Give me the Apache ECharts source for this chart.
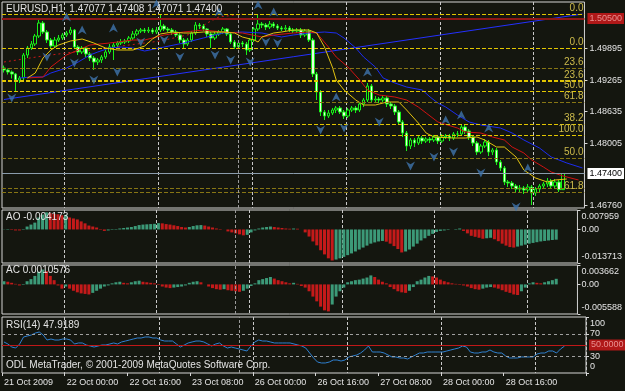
<!DOCTYPE html>
<html>
<head>
<meta charset="utf-8">
<script src="https://cdn.jsdelivr.net/npm/echarts@6/dist/echarts.min.js"></script>
<style>
html, body { margin: 0; padding: 0; background: #14160f; }
#main { width: 625px; height: 391px; }
</style>
</head>
<body>
<div id="main"></div>
<script>
// EURUSD H1, 21 Oct 08:00 .. 29 Oct 07:00 (weekend skipped)
var symbolName = 'EURUSD,H1';
var days = ['21 Oct', '22 Oct', '23 Oct', '26 Oct', '27 Oct', '28 Oct', '29 Oct'];
var firstLabel = '21 Oct 2009';
var slots = 149;

var open = [
	1.4951, 1.4947, 1.4943, 1.4939, 1.4927, 1.4931, 1.4977, 1.4991, 1.4999, 1.5015,
	1.5041, 1.5023, 1.5007, 1.4995, 1.5007, 1.5011, 1.5017, 1.5021, 1.5027, 1.4993,
	1.4983, 1.4991, 1.4979, 1.4971, 1.4963, 1.4967, 1.4973, 1.4983, 1.4993, 1.4997,
	1.5001, 1.5003, 1.5005, 1.5011, 1.5019, 1.5025, 1.5027, 1.5025, 1.5027, 1.5023,
	1.5027, 1.5035, 1.5029, 1.5027, 1.5023, 1.5017, 1.5007, 1.4999, 1.5007, 1.5021,
	1.5037, 1.5035, 1.5029, 1.5019, 1.5011, 1.5019, 1.5023, 1.5029, 1.5019, 1.5003,
	1.4993, 1.5001, 1.4999, 1.4987, 1.5007, 1.5029, 1.5039, 1.5037, 1.5033, 1.5039,
	1.5035, 1.5031, 1.5029, 1.5031, 1.5027, 1.5025, 1.5027, 1.5017, 1.5025, 1.5007,
	1.4939, 1.4903, 1.4863, 1.4855, 1.4861, 1.4867, 1.4871, 1.4863, 1.4855, 1.4867,
	1.4871, 1.4867, 1.4879, 1.4887, 1.4915, 1.4887, 1.4889, 1.4887, 1.4891, 1.4879,
	1.4875, 1.4863, 1.4843, 1.4821, 1.4795, 1.4807, 1.4801, 1.4811, 1.4805, 1.4809,
	1.4807, 1.4813, 1.4805, 1.4813, 1.4815, 1.4811, 1.4819, 1.4819, 1.4833, 1.4825,
	1.4813, 1.4801, 1.4783, 1.4795, 1.4803, 1.4783, 1.4787, 1.4763, 1.4751, 1.4723,
	1.4721, 1.4715, 1.4709, 1.4711, 1.4707, 1.4713, 1.4701, 1.4709, 1.4715, 1.4719,
	1.4725, 1.4715, 1.4723, 1.47077
];
var close = [
	1.4947, 1.4943, 1.4939, 1.4927, 1.4931, 1.4977, 1.4991, 1.4999, 1.5015, 1.5041,
	1.5023, 1.5007, 1.4995, 1.5007, 1.5011, 1.5017, 1.5021, 1.5027, 1.4993, 1.4983,
	1.4991, 1.4979, 1.4971, 1.4963, 1.4967, 1.4973, 1.4983, 1.4993, 1.4997, 1.5001,
	1.5003, 1.5005, 1.5011, 1.5019, 1.5025, 1.5027, 1.5025, 1.5027, 1.5023, 1.5027,
	1.5035, 1.5029, 1.5027, 1.5023, 1.5017, 1.5007, 1.4999, 1.5007, 1.5021, 1.5037,
	1.5035, 1.5029, 1.5019, 1.5011, 1.5019, 1.5023, 1.5029, 1.5019, 1.5003, 1.4993,
	1.5001, 1.4999, 1.4987, 1.5007, 1.5029, 1.5039, 1.5037, 1.5033, 1.5039, 1.5035,
	1.5031, 1.5029, 1.5031, 1.5027, 1.5025, 1.5027, 1.5017, 1.5025, 1.5007, 1.4939,
	1.4903, 1.4863, 1.4855, 1.4861, 1.4867, 1.4871, 1.4863, 1.4855, 1.4867, 1.4871,
	1.4867, 1.4879, 1.4887, 1.4915, 1.4887, 1.4889, 1.4887, 1.4891, 1.4879, 1.4875,
	1.4863, 1.4843, 1.4821, 1.4795, 1.4807, 1.4801, 1.4811, 1.4805, 1.4809, 1.4807,
	1.4813, 1.4805, 1.4813, 1.4815, 1.4811, 1.4819, 1.4819, 1.4833, 1.4825, 1.4813,
	1.4801, 1.4783, 1.4795, 1.4803, 1.4783, 1.4787, 1.4763, 1.4751, 1.4723, 1.4721,
	1.4715, 1.4709, 1.4711, 1.4707, 1.4713, 1.4701, 1.4709, 1.4715, 1.4719, 1.4725,
	1.4715, 1.4723, 1.47077, 1.47400
];
var high = [
	1.4956, 1.4950, 1.4946, 1.4941, 1.4935, 1.4981, 1.4995, 1.5005, 1.5019, 1.5047,
	1.5045, 1.5027, 1.5011, 1.5013, 1.5017, 1.5021, 1.5025, 1.5033, 1.5029, 1.4997,
	1.4995, 1.4993, 1.4983, 1.4975, 1.4971, 1.4977, 1.4987, 1.4999, 1.5003, 1.5005,
	1.5009, 1.5009, 1.5015, 1.5025, 1.5029, 1.5031, 1.5031, 1.5033, 1.5031, 1.5033,
	1.5057, 1.5039, 1.5033, 1.5031, 1.5027, 1.5021, 1.5011, 1.5011, 1.5025, 1.5043,
	1.5041, 1.5039, 1.5031, 1.5023, 1.5023, 1.5027, 1.5033, 1.5031, 1.5023, 1.5007,
	1.5005, 1.5005, 1.5003, 1.5011, 1.5033, 1.5059, 1.5043, 1.5041, 1.5045, 1.5043,
	1.5039, 1.5035, 1.5037, 1.5035, 1.5031, 1.5031, 1.5031, 1.5029, 1.5029, 1.5011,
	1.4943, 1.4907, 1.4867, 1.4867, 1.4871, 1.4875, 1.4875, 1.4867, 1.4871, 1.4875,
	1.4875, 1.4883, 1.4891, 1.4921, 1.4919, 1.4895, 1.4893, 1.4897, 1.4895, 1.4883,
	1.4879, 1.4867, 1.4847, 1.4825, 1.4811, 1.4811, 1.4817, 1.4815, 1.4813, 1.4813,
	1.4817, 1.4817, 1.4819, 1.4819, 1.4819, 1.4823, 1.4825, 1.4839, 1.4837, 1.4829,
	1.4817, 1.4805, 1.4799, 1.4809, 1.4807, 1.4791, 1.4791, 1.4767, 1.4755, 1.4727,
	1.4725, 1.4719, 1.4717, 1.4715, 1.4719, 1.4717, 1.4713, 1.4719, 1.4723, 1.4731,
	1.4729, 1.4729, 1.4727, 1.47408
];
var low = [
	1.4942, 1.4938, 1.4930, 1.4905, 1.4921, 1.4927, 1.4971, 1.4987, 1.4995, 1.5011,
	1.5019, 1.5001, 1.4989, 1.4991, 1.5003, 1.5007, 1.5013, 1.5017, 1.4989, 1.4977,
	1.4979, 1.4973, 1.4965, 1.4947, 1.4957, 1.4961, 1.4969, 1.4979, 1.4967, 1.4993,
	1.4997, 1.4999, 1.5001, 1.5007, 1.5015, 1.5021, 1.5021, 1.5021, 1.5019, 1.5019,
	1.5023, 1.5025, 1.5023, 1.5017, 1.5013, 1.5001, 1.4991, 1.4995, 1.5003, 1.5017,
	1.5029, 1.5025, 1.5013, 1.4991, 1.5007, 1.5015, 1.5019, 1.5015, 1.4999, 1.4989,
	1.4989, 1.4993, 1.4977, 1.4983, 1.5003, 1.5025, 1.5031, 1.5027, 1.5029, 1.5031,
	1.5027, 1.5025, 1.5025, 1.5023, 1.5021, 1.5021, 1.5011, 1.5013, 1.5003, 1.4933,
	1.4887, 1.4855, 1.4847, 1.4851, 1.4857, 1.4861, 1.4859, 1.4849, 1.4851, 1.4863,
	1.4861, 1.4863, 1.4873, 1.4883, 1.4881, 1.4881, 1.4881, 1.4883, 1.4873, 1.4869,
	1.4857, 1.4837, 1.4813, 1.4785, 1.4789, 1.4793, 1.4797, 1.4799, 1.4801, 1.4801,
	1.4803, 1.4799, 1.4801, 1.4809, 1.4805, 1.4807, 1.4813, 1.4815, 1.4819, 1.4807,
	1.4795, 1.4777, 1.4779, 1.4791, 1.4775, 1.4777, 1.4757, 1.4745, 1.4717, 1.4713,
	1.4709, 1.4701, 1.4703, 1.4699, 1.4701, 1.4677, 1.4695, 1.4703, 1.4709, 1.4713,
	1.4709, 1.4711, 1.4703, 1.47071
];

// Alligator lines, read as [bar, price]
var lips = [[6,1.4931],[8,1.4941],[10,1.4971],[12,1.4987],[14,1.4997],[17,1.5005],[20,1.5009],[23,1.5001],[26,1.4991],[29,1.4987],[33,1.4987],[36,1.4995],[38,1.5009],[40,1.5019],[43,1.5023],[46,1.5021],[48,1.5021],[51,1.5023],[54,1.5023],[56,1.5023],[59,1.5021],[61,1.5013],[64,1.5007],[65,1.5003],[66,1.5013],[69,1.5021],[71,1.5023],[74,1.5027],[78,1.5027],[80,1.5021],[82,1.4993],[84,1.4953],[85,1.4927],[87,1.4907],[90,1.4887],[92,1.4877],[95,1.4877],[98,1.4883],[101,1.4883],[103,1.4867],[106,1.4841],[108,1.4821],[110,1.4813],[115,1.4811],[118,1.4811],[121,1.4813],[123,1.4807],[126,1.4793],[128,1.4793],[131,1.4773],[133,1.4747],[136,1.4731],[139,1.4723],[141,1.4727],[144,1.4729]];
var teeth = [[6,1.4931],[10,1.4933],[12,1.4953],[16,1.4977],[19,1.4987],[22,1.4997],[27,1.5001],[29,1.5003],[33,1.5007],[36,1.5007],[41,1.5017],[46,1.5023],[51,1.5027],[56,1.5023],[61,1.5021],[66,1.5013],[69,1.5017],[74,1.5021],[78,1.5023],[80,1.5021],[83,1.4993],[85,1.4973],[88,1.4953],[91,1.4927],[93,1.4907],[96,1.4897],[100,1.4893],[103,1.4887],[106,1.4873],[108,1.4861],[111,1.4843],[116,1.4831],[118,1.4823],[122,1.4821],[125,1.4813],[128,1.4807],[130,1.4793],[133,1.4781],[135,1.4767],[138,1.4753],[140,1.4743],[143,1.4735],[147,1.4727]];
var jaw = [[4,1.4931],[7,1.4933],[10,1.4933],[12,1.4941],[16,1.4951],[19,1.4963],[22,1.4977],[24,1.4983],[27,1.4991],[30,1.4993],[33,1.4991],[36,1.4985],[41,1.4993],[46,1.5001],[51,1.5011],[56,1.5021],[61,1.5023],[66,1.5021],[71,1.5013],[74,1.5017],[78,1.5021],[82,1.5023],[85,1.5021],[87,1.5011],[90,1.4991],[92,1.4973],[95,1.4953],[97,1.4931],[100,1.4921],[103,1.4913],[107,1.4907],[109,1.4893],[111,1.4881],[113,1.4873],[116,1.4857],[119,1.4843],[122,1.4837],[127,1.4831],[130,1.4821],[133,1.4807],[137,1.4791],[140,1.4773],[144,1.4761],[148,1.4751]];
var redDotted = [[0,1.4963],[10,1.4975],[20,1.4985],[30,1.4995],[40,1.5005],[48,1.5019],[52,1.5041],[55,1.5053],[61,1.5059]];
var trendLine = [[0,1.4888],[148,1.5059]];

// fractals
var fracUp = [[16,1.5053],[20,1.5027],[28,1.5031],[39,1.5079],[55,1.5063],[65,1.5077],[69,1.5063],[85,1.4893],[93,1.4943],[113,1.4847],[117,1.4857],[124,1.4831],[134,1.4751]];
var fracDown = [[2,1.4891],[11,1.4973],[18,1.4961],[23,1.4927],[29,1.4943],[35,1.5003],[41,1.5007],[45,1.4973],[54,1.4977],[58,1.4967],[63,1.4963],[67,1.5003],[70,1.5001],[81,1.4827],[87,1.4831],[96,1.4843],[104,1.4755],[110,1.4773],[115,1.4783],[122,1.4741],[131,1.4673]];

// fibo levels
var fibLevels = [1.5059, 1.4991, 1.4951, 1.4925, 1.4905, 1.4883, 1.4839, 1.4817, 1.4771, 1.4711, 1.4703];
var fibNames = ['0.0', '0.0', '23.6', '23.6', '50.0', '61.8', '38.2', '100.0', '50.0', '', '61.8'];
var fibBright = [true, true, false, true, true, false, true, true, false, false, false];
var alertLevel = 1.5050;
var priceTicks = [1.4676, 1.48005, 1.48635, 1.49265, 1.49895];

var ao = [
	0.0001, 0.0002, -0.0002, -0.0004, -0.0004, 0.0002, 0.0012, 0.0020, 0.0028, 0.0049,
	0.0061, 0.0070, 0.0066, 0.0064, 0.0062, 0.0058, 0.0060, 0.0049, 0.0045, 0.0041,
	0.0033, 0.0025, 0.0016, 0.0012, 0.0008, 0.0002, -0.0006, -0.0004, -0.0002, 0.0002,
	0.0004, 0.0006, 0.0008, 0.0010, 0.0014, 0.0018, 0.0020, 0.0021, 0.0022, 0.0023,
	0.0026, 0.0025, 0.0022, 0.0020, 0.0017, 0.0014, 0.0010, 0.0008, 0.0010, 0.0014,
	0.0017, 0.0018, 0.0016, 0.0012, 0.0008, 0.0004, 0.0002, 0.0000, -0.0008, -0.0012,
	-0.0016, -0.0020, -0.0024, -0.0022, -0.0012, -0.0004, 0.0004, 0.0008, 0.0010, 0.0012,
	0.0010, 0.0008, 0.0006, 0.0004, 0.0003, 0.0004, 0.0003, 0.0000, -0.0012, -0.0029,
	-0.0049, -0.0065, -0.0085, -0.0102, -0.0118, -0.0127, -0.0123, -0.0118, -0.0112, -0.0105,
	-0.0098, -0.0090, -0.0082, -0.0074, -0.0066, -0.0058, -0.0053, -0.0049, -0.0047, -0.0050,
	-0.0058, -0.0068, -0.0080, -0.0094, -0.0090, -0.0082, -0.0070, -0.0058, -0.0045, -0.0036,
	-0.0026, -0.0018, -0.0010, -0.0006, -0.0004, -0.0002, 0.0000, 0.0002, 0.0004, -0.0006,
	-0.0016, -0.0026, -0.0030, -0.0034, -0.0038, -0.0036, -0.0034, -0.0040, -0.0048, -0.0058,
	-0.0066, -0.0072, -0.0074, -0.0070, -0.0066, -0.0062, -0.0058, -0.0055, -0.0052, -0.0049,
	-0.0047, -0.0045, -0.0043, -0.004173
];
var ac = [
	0.0006, 0.0005, 0.0003, 0.0001, -0.0002, -0.0001, 0.0006, 0.0010, 0.0016, 0.0024,
	0.0028, 0.0025, 0.0016, 0.0008, -0.0002, -0.0008, -0.0004, -0.0008, -0.0012, -0.0015,
	-0.0017, -0.0018, -0.0019, -0.0016, -0.0012, -0.0008, -0.0004, -0.0002, 0.0002, 0.0004,
	0.0005, 0.0003, 0.0002, 0.0004, 0.0006, 0.0007, 0.0005, 0.0004, 0.0003, 0.0002,
	-0.0001, -0.0004, -0.0006, -0.0007, -0.0006, -0.0005, -0.0004, -0.0002, 0.0003, 0.0005,
	0.0006, 0.0004, 0.0000, -0.0004, -0.0007, -0.0009, -0.0010, -0.0009, -0.0011, -0.0012,
	-0.0013, -0.0014, -0.0012, -0.0008, -0.0003, 0.0002, 0.0008, 0.0010, 0.0012, 0.0014,
	0.0011, 0.0008, 0.0006, 0.0004, 0.0002, 0.0003, 0.0001, -0.0003, -0.0006, -0.0013,
	-0.0023, -0.0032, -0.0042, -0.0049, -0.0051, -0.0038, -0.0023, -0.0013, -0.0006, 0.0004,
	0.0006, 0.0008, 0.0009, 0.0011, 0.0013, 0.0017, 0.0014, 0.0009, 0.0005, 0.0002,
	-0.0005, -0.0009, -0.0013, -0.0015, -0.0016, -0.0012, -0.0005, 0.0006, 0.0009, 0.0013,
	0.0016, 0.0015, 0.0013, 0.0009, 0.0006, 0.0004, 0.0002, 0.0001, -0.0001, -0.0002,
	-0.0004, -0.0007, -0.0009, -0.0010, -0.0008, -0.0006, -0.0005, -0.0006, -0.0008, -0.0011,
	-0.0014, -0.0016, -0.0019, -0.0020, -0.0013, -0.0006, 0.0002, 0.0004, 0.0003, 0.0002,
	0.0004, 0.0006, 0.0008, 0.0010576
];
var rsi = [
	55.4, 51.8, 46.4, 44.6, 51.8, 64.3, 66.1, 67.9, 71.4, 73.2,
	67.9, 58.9, 60.7, 58.9, 58.9, 60.7, 60.7, 58.9, 51.8, 53.6,
	53.6, 50.0, 48.2, 46.4, 48.2, 50.0, 50.0, 51.8, 53.6, 51.8,
	55.4, 57.1, 58.9, 60.7, 62.5, 62.5, 64.3, 64.3, 62.5, 62.5,
	58.9, 57.1, 57.1, 57.1, 51.8, 46.4, 50.0, 53.6, 55.4, 57.1,
	57.1, 55.4, 51.8, 48.2, 51.8, 53.6, 48.2, 44.6, 46.4, 44.6,
	42.9, 41.1, 39.3, 48.2, 55.4, 58.9, 57.1, 57.1, 55.4, 53.6,
	53.6, 53.6, 53.6, 53.6, 51.8, 50.0, 48.2, 44.6, 35.7, 26.8,
	19.6, 17.9, 17.9, 19.6, 23.2, 23.2, 21.4, 23.2, 28.6, 30.4,
	32.1, 35.7, 41.1, 48.2, 37.5, 37.5, 37.5, 35.7, 32.1, 28.6,
	28.6, 26.8, 26.8, 25.0, 28.6, 32.1, 35.7, 35.7, 37.5, 37.5,
	37.5, 37.5, 37.5, 39.3, 41.1, 42.9, 44.6, 48.2, 46.4, 37.5,
	35.7, 35.7, 37.5, 37.5, 41.1, 37.5, 35.7, 35.7, 30.4, 26.8,
	26.8, 26.8, 28.6, 28.6, 28.6, 28.6, 33.9, 35.7, 35.7, 39.3,
	39.3, 35.7, 42.9, 47.9189
];
var rsiTicks = [0, 30, 70, 100];

var cats = [];
for (var d = 0; d < days.length; d++) {
	for (var h = (d == 0 ? 8 : 0); h < 24 && cats.length < slots; h++) {
		cats.push(days[d] + ' ' + (h < 10 ? '0' + h : h) + ':00');
	}
}

var FONT = 'Liberation Sans';
var WHITE = '#e4e4e4';
var last = close.length - 1;
var candles = [];
for (var i = 0; i < close.length; i++) {
	candles.push([open[i], close[i], low[i], high[i]]);
}

function histo(vals) {
	return vals.map(function(v, i) {
		var up = i == 0 ? v >= 0 : v > vals[i - 1];
		return { value: v, itemStyle: { color: up ? '#3c9a78' : '#c41a1a' } };
	});
}

function f5(v) { return v.toFixed(5); }

var fibLines = fibLevels.map(function(v, i) {
	return {
		yAxis: v,
		name: fibNames[i],
		lineStyle: { color: fibBright[i] ? '#e2c600' : '#877614', type: [4, 2], width: i == 3 ? 2 : 1 },
		label: { show: fibNames[i] != '', position: 'insideEndTop', formatter: '{b}', color: '#cdbb4c', fontSize: 10, fontFamily: FONT, distance: 1 }
	};
});

var vLine = { xAxis: 60, lineStyle: { color: '#9a9a9a', type: [3, 2], width: 1 }, label: { show: false } };
var everySixteen = function(i) { return i % 16 == 0 && i < 144; };

// panels carry only the day grid; the time labels sit on a separate overlay axis
function xAxisFor(idx) {
	return {
		type: 'category', gridIndex: idx, data: cats, boundaryGap: true,
		axisLine: { show: false }, axisTick: { show: false }, axisLabel: { show: false },
		splitLine: {
			show: true,
			interval: function(i) { return i >= 16 && (i - 16) % 24 == 0; },
			lineStyle: { color: '#c8c8c8', type: [3, 2], width: 1 }
		}
	};
}

// first/last label pushed inside the panel, like the terminal does
var rich = {
	t: { padding: [14, 0, 0, 0], lineHeight: 9, color: WHITE, fontSize: 9, fontFamily: FONT },
	b: { padding: [0, 0, 12, 0], lineHeight: 9, color: WHITE, fontSize: 9, fontFamily: FONT }
};

function subAxis(idx, min, max, ticks, fmt) {
	var lo = ticks[0], hi = ticks[ticks.length - 1];
	return {
		type: 'value', gridIndex: idx, position: 'right', min: min, max: max,
		axisLine: { show: false }, splitLine: { show: false },
		axisTick: { show: true, customValues: ticks, length: 3, lineStyle: { color: '#d8d8d8' } },
		axisLabel: {
			customValues: ticks, showMinLabel: true, showMaxLabel: true, hideOverlap: false,
			margin: 4, color: WHITE, fontSize: 9, lineHeight: 9, fontFamily: FONT, rich: rich,
			formatter: function(v) {
				if (v == hi) return '{t|' + fmt(v) + '}';
				if (v == lo) return '{b|' + fmt(v) + '}';
				return fmt(v);
			}
		}
	};
}

var gridStyle = { show: true, borderColor: '#d4d4d4', borderWidth: 1, left: 2, width: 584 };

var myChart = echarts.init(document.getElementById('main'));
myChart.setOption({
	animation: false,
	backgroundColor: '#14160f',
	textStyle: { fontFamily: FONT },
	title: [
		{ text: symbolName + '  ' + [open[last], high[last], low[last], close[last]].map(f5).join(' '), left: 6, top: 4 },
		{ text: 'AO ' + ao[last].toFixed(6), left: 6, top: 212 },
		{ text: 'AC ' + ac[last].toFixed(7), left: 6, top: 265 },
		{ text: 'RSI(14) ' + rsi[last].toFixed(4), left: 6, top: 320 },
		{ text: 'ODL MetaTrader, \u00a9 2001-2009 MetaQuotes Software Corp.', left: 6, top: 360 }
	].map(function(t) {
		t.padding = 0;
		t.textStyle = { color: WHITE, fontSize: 10, fontWeight: 'normal', fontFamily: FONT };
		return t;
	}),
	grid: [
		Object.assign({ top: 2, height: 206 }, gridStyle),
		Object.assign({ top: 210, height: 53 }, gridStyle),
		Object.assign({ top: 265, height: 49 }, gridStyle),
		Object.assign({ top: 317, height: 56 }, gridStyle),
		{ show: false, left: 2, width: 584, top: 317, height: 56 }
	],
	xAxis: [
		xAxisFor(0), xAxisFor(1), xAxisFor(2), xAxisFor(3),
		{
			type: 'category', gridIndex: 4, data: cats, boundaryGap: true,
			axisLine: { show: false }, splitLine: { show: false },
			axisTick: { show: true, interval: everySixteen, length: 3, lineStyle: { color: '#d8d8d8' } },
			axisLabel: {
				show: true, interval: everySixteen, align: 'left', margin: 5, color: WHITE, fontSize: 9, fontFamily: FONT,
				formatter: function(v, i) { return i == 0 ? firstLabel : v; }
			}
		}
	],
	yAxis: [
		{
			type: 'value', gridIndex: 0, position: 'right', min: 1.4671, max: 1.5083,
			axisLine: { show: false }, splitLine: { show: false },
			axisTick: { show: true, customValues: priceTicks, length: 3, lineStyle: { color: '#d8d8d8' } },
			axisLabel: { customValues: priceTicks, margin: 5, color: WHITE, fontSize: 9, fontFamily: FONT, formatter: f5 }
		},
		subAxis(1, -0.013713, 0.007959, [-0.013713, 0, 0.007959], function(v) { return v == 0 ? '0.00' : v.toFixed(6); }),
		subAxis(2, -0.005588, 0.003662, [-0.005588, 0, 0.003662], function(v) { return v == 0 ? '0.00' : v.toFixed(6); }),
		subAxis(3, 0, 100, rsiTicks, function(v) { return String(v); }),
		{ type: 'value', gridIndex: 4, show: false }
	],
	series: [
		{
			name: 'EURUSD', type: 'candlestick', xAxisIndex: 0, yAxisIndex: 0, data: candles, barWidth: 3, z: 3,
			itemStyle: { color: '#0e120a', color0: '#e6ffe0', borderColor: '#18f018', borderColor0: '#18f018', borderWidth: 1 },
			markLine: {
				silent: true, symbol: 'none', animation: false, precision: 6,
				data: fibLines.concat([
					{ yAxis: alertLevel, lineStyle: { color: '#8e1616', type: 'solid', width: 2 },
						label: { show: true, position: 'end', distance: 3, formatter: f5(alertLevel), backgroundColor: '#b01818', color: '#e89090', fontSize: 9, fontFamily: FONT, padding: [1, 2] } },
					{ yAxis: close[last], lineStyle: { color: '#8a9cac', type: 'solid', width: 1 },
						label: { show: true, position: 'end', distance: 3, formatter: f5(close[last]), backgroundColor: '#ffffff', color: '#000000', fontSize: 9, fontFamily: FONT, padding: [1, 2] } },
					vLine
				])
			}
		},
		{ name: 'trend', type: 'line', xAxisIndex: 0, yAxisIndex: 0, data: trendLine, showSymbol: false, lineStyle: { color: '#2430ff', width: 1 }, z: 2 },
		{ name: 'dotted', type: 'line', xAxisIndex: 0, yAxisIndex: 0, data: redDotted, showSymbol: false, lineStyle: { color: '#c81818', width: 1, type: [2, 3] }, z: 2 },
		{ name: 'Jaw', type: 'line', xAxisIndex: 0, yAxisIndex: 0, data: jaw, showSymbol: false, lineStyle: { color: '#1c2cf0', width: 1 }, z: 4 },
		{ name: 'Teeth', type: 'line', xAxisIndex: 0, yAxisIndex: 0, data: teeth, showSymbol: false, lineStyle: { color: '#d01212', width: 1 }, z: 4 },
		{ name: 'Lips', type: 'line', xAxisIndex: 0, yAxisIndex: 0, data: lips, showSymbol: false, lineStyle: { color: '#e2c210', width: 1 }, z: 4 },
		{ name: 'FractalUp', type: 'scatter', xAxisIndex: 0, yAxisIndex: 0, data: fracUp, symbol: 'path://M5,0L10,10L5,7L0,10Z', symbolSize: [9, 9], itemStyle: { color: '#3f74ad' }, z: 5 },
		{ name: 'FractalDown', type: 'scatter', xAxisIndex: 0, yAxisIndex: 0, data: fracDown, symbol: 'path://M0,0L5,3L10,0L5,10Z', symbolSize: [9, 9], itemStyle: { color: '#3f74ad' }, z: 5 },
		{
			name: 'AO', type: 'bar', xAxisIndex: 1, yAxisIndex: 1, data: histo(ao), barWidth: 3,
			markLine: { silent: true, symbol: 'none', precision: 6, data: [vLine] }
		},
		{
			name: 'AC', type: 'bar', xAxisIndex: 2, yAxisIndex: 2, data: histo(ac), barWidth: 3,
			markLine: { silent: true, symbol: 'none', precision: 6, data: [vLine] }
		},
		{
			name: 'RSI', type: 'line', xAxisIndex: 3, yAxisIndex: 3, data: rsi, showSymbol: false,
			lineStyle: { color: '#2f80d0', width: 1 },
			markLine: {
				silent: true, symbol: 'none', precision: 6,
				data: [
					{ yAxis: 70, lineStyle: { color: '#a0a0a0', type: [3, 3], width: 1 }, label: { show: false } },
					{ yAxis: 30, lineStyle: { color: '#a0a0a0', type: [3, 3], width: 1 }, label: { show: false } },
					{ yAxis: 50, lineStyle: { color: '#c01818', type: 'solid', width: 1 },
						label: { show: true, position: 'end', distance: 3, formatter: '50.0000', backgroundColor: '#b01818', color: '#e89090', fontSize: 9, fontFamily: FONT, padding: [1, 2] } },
					vLine
				]
			}
		}
	]
});
</script>
</body>
</html>
